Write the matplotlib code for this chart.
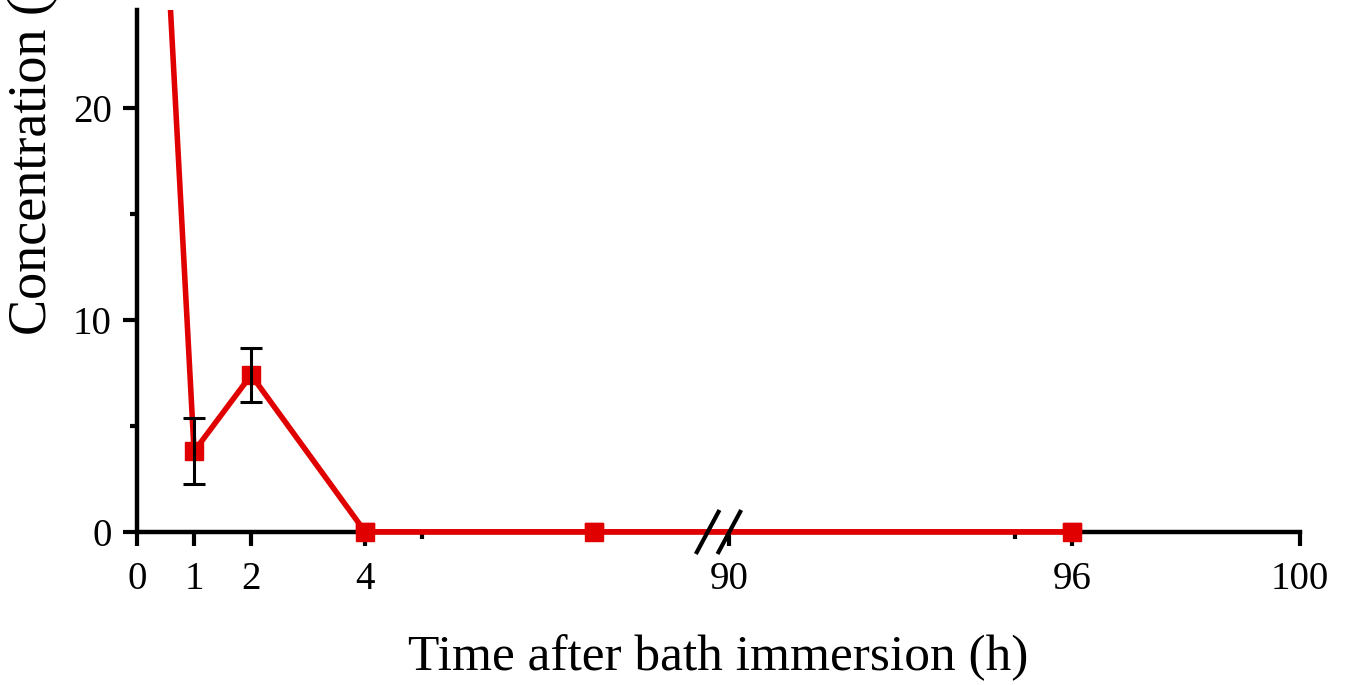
import matplotlib.pyplot as plt

plt.rcParams['font.family'] = ['Liberation Serif', 'DejaVu Serif']

# sampling times (h) and mean concentration with SD
time = [0.5, 1, 2, 4, 8, 96]
conc = [29.0, 3.8, 7.4, 0.0, 0.0, 0.0]
sd = [0.0, 1.55, 1.25, 0.0, 0.0, 0.0]

xticks = [0, 1, 2, 4, 90, 96, 100]
xminor = [5, 95]
yticks = [0, 10, 20]
yminor = [5, 15]

# broken x axis: 0-10 and 90-100
brk_lo, brk_hi = 10, 90
gap = 0.38


def bx(x):
    return x if x <= brk_lo else x - (brk_hi - brk_lo) + gap


red = '#e10000'

fig = plt.figure(figsize=(13.51, 6.85), dpi=100)
ax = fig.add_axes([137 / 1351, 153 / 685, 1163 / 1351, 522 / 685])

xs = [bx(t) for t in time]
ax.plot(xs, conc, color=red, lw=4, marker='s', ms=13, zorder=3, clip_on=True)
ax.plot(xs[3:], conc[3:], color=red, lw=4, marker='s', ms=13, zorder=3, clip_on=False)
ax.errorbar(xs[1:3], conc[1:3], yerr=sd[1:3], fmt='none', ecolor='black',
            elinewidth=2.2, capsize=8, capthick=2.2, zorder=4)

ax.set_xlim(0, bx(100))
ax.set_ylim(0, 24.6)

ax.set_xticks([bx(t) for t in xticks])
ax.set_xticklabels([str(t) for t in xticks])
ax.set_xticks([bx(t) for t in xminor], minor=True)
ax.set_yticks(yticks)
ax.set_yticks(yminor, minor=True)

for s in ['top', 'right']:
    ax.spines[s].set_visible(False)
for s in ['left', 'bottom']:
    ax.spines[s].set_linewidth(3.2)

ax.tick_params(axis='both', which='major', direction='out', length=10, width=3,
               labelsize=28, pad=8)
ax.tick_params(axis='x', which='major', pad=11)
ax.tick_params(axis='both', which='minor', direction='out', length=5, width=3)

# break marks at the two segment ends
for xb in [bx(brk_lo), bx(brk_hi)]:
    ax.plot([xb - 0.19, xb + 0.19], [-0.95, 0.95], color='black', lw=3,
            clip_on=False, zorder=5)

ax.set_xlabel('Time after bath immersion (h)', fontsize=37, labelpad=26)
fig.text(33 / 1351, 350 / 685, 'Concentration (μg/mL)', rotation=90,
         ha='center', va='bottom', fontsize=39)

fig.savefig('out.png', dpi=100)
